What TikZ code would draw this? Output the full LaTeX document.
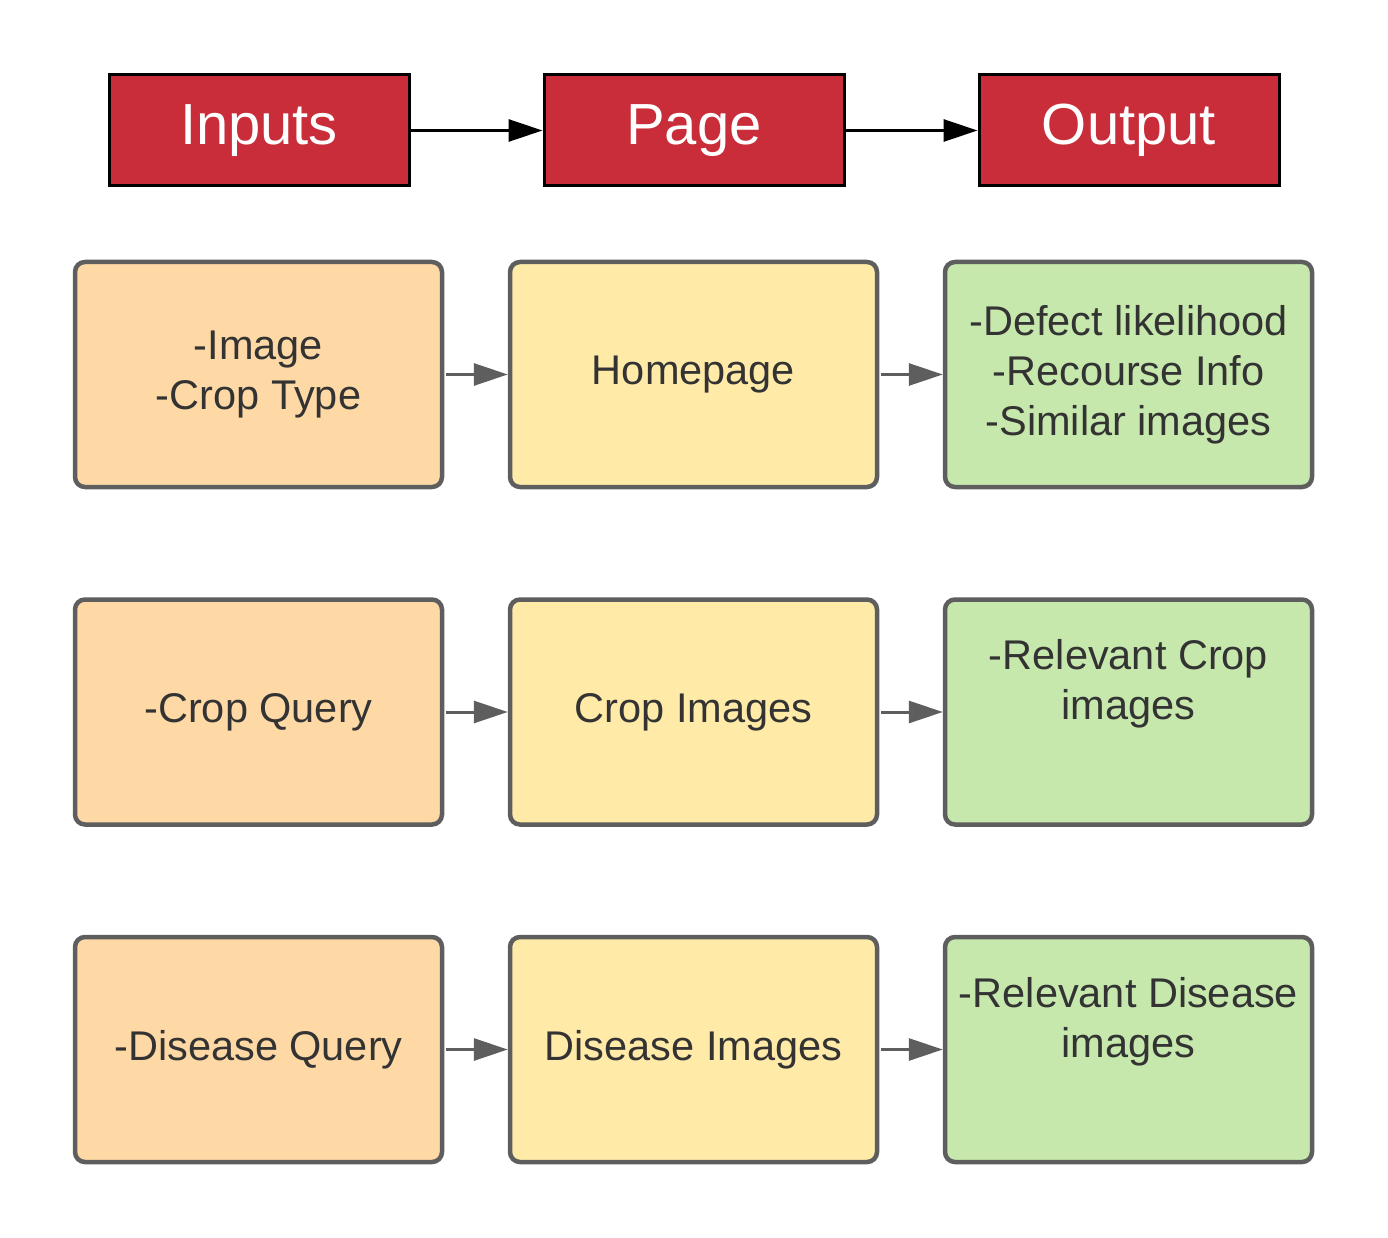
\documentclass[tikz,border=0pt]{standalone}
\usepackage{fontspec}
\setmainfont{Liberation Sans}
\usetikzlibrary{arrows.meta}
\definecolor{hdrred}{HTML}{C92D39}
\definecolor{inorange}{HTML}{FED9A6}
\definecolor{pgyellow}{HTML}{FFEAA7}
\definecolor{outgreen}{HTML}{C7E8AC}
\definecolor{bordergray}{HTML}{5E5E5E}
\definecolor{txtgray}{HTML}{333333}
\tikzset{
  hdr/.style={draw=black, line width=3pt, fill=hdrred, minimum width=300pt, minimum height=111pt, inner sep=0pt, text=white, font=\fontsize{58}{62}\selectfont},
  cell/.style={draw=bordergray, line width=4.5pt, rounded corners=10pt, minimum width=367pt, minimum height=225pt, inner sep=0pt, text=txtgray, align=center, font=\fontsize{41.5}{50}\selectfont},
  inbox/.style={cell, fill=inorange},
  pgbox/.style={cell, fill=pgyellow},
  outbox/.style={cell, fill=outgreen},
  harrow/.style={line width=3pt, black, -{Triangle[length=34pt,width=22pt]}},
  rarrow/.style={line width=3pt, bordergray, -{Triangle[length=34pt,width=22pt]}, shorten <=2pt}
}
\begin{document}
\begin{tikzpicture}[x=1pt,y=-1pt]
\useasboundingbox (0,0) rectangle (1388,1238);
% header
\node[hdr] (hin) at (259,130.5) {Inputs};
\node[hdr] (hpg) at (694,130.5) {Page};
\node[hdr] (hout) at (1129,130.5) {Output};
\draw[harrow] (hin) -- (hpg);
\draw[harrow] (hpg) -- (hout);
% row 1
\node[inbox] (a1) at (258.5,374.5) {-Image\\-Crop Type};
\node[pgbox] (b1) at (693.5,374.5) {Homepage};
\node[outbox] (c1) at (1128.5,374.5) {-Defect likelihood\\-Recourse Info\\-Similar images};
% row 2
\node[inbox] (a2) at (258.5,712) {-Crop Query};
\node[pgbox] (b2) at (693.5,712) {Crop Images};
\node[outbox] (c2) at (1128.5,712) {-Relevant Crop\\images\\\strut};
% row 3
\node[inbox] (a3) at (258.5,1049.5) {-Disease Query};
\node[pgbox] (b3) at (693.5,1049.5) {Disease Images};
\node[outbox] (c3) at (1128.5,1049.5) {-Relevant Disease\\images\\\strut};
% arrows
\foreach \r in {1,2,3}{
  \draw[rarrow] (a\r) -- (b\r);
  \draw[rarrow] (b\r) -- (c\r);
}
\end{tikzpicture}
\end{document}
